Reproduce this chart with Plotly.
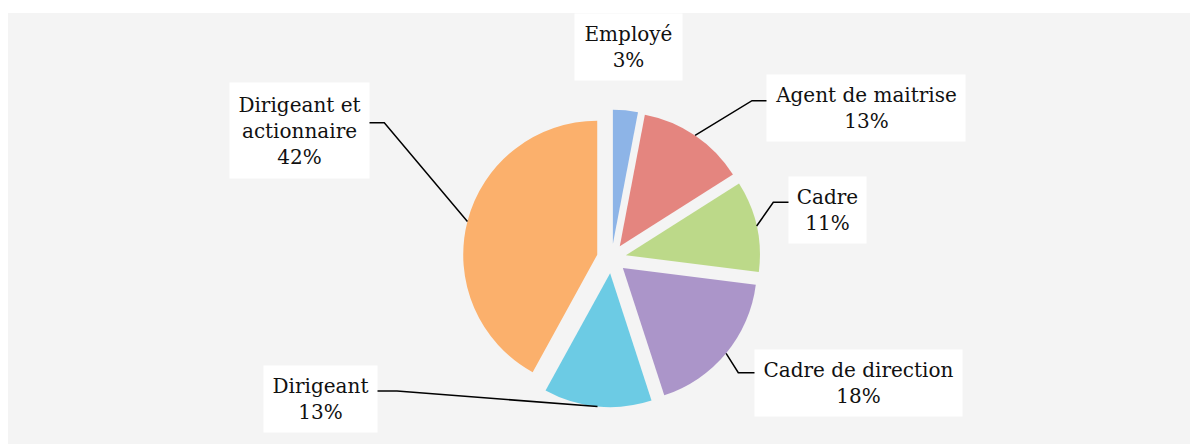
import math
import plotly.graph_objects as go

# ---- data ----
categories = ["Employé", "Agent de maitrise", "Cadre", "Cadre de direction", "Dirigeant", "Dirigeant et actionnaire"]
label_text = ["Employé", "Agent de maitrise", "Cadre", "Cadre de direction", "Dirigeant", "Dirigeant et<br>actionnaire"]
values = [3, 13, 11, 18, 13, 42]
colors = ["#8db4e7", "#e4857f", "#bcd989", "#ab95c9", "#6ccbe4", "#fbb06c"]

# ---- layout geometry (pixels) ----
W, H = 1190, 444
PULL = 0.11
CX, CY, R = 611.5, 258.5, 134.0
box = 2 * R * (1 + PULL)

def px(x):
    return x / W

def py(y):
    return 1 - y / H

dom_x = [px(CX - box / 2), px(CX + box / 2)]
dom_y = [py(CY + box / 2), py(CY - box / 2)]

fig = go.Figure(go.Pie(
    labels=categories, values=values, sort=False, direction="clockwise", rotation=0,
    pull=[PULL] * len(values), marker=dict(colors=colors, line=dict(width=0)),
    textinfo="none", showlegend=False, domain=dict(x=dom_x, y=dom_y),
    hovertemplate="%{label}: %{percent}<extra></extra>",
))

# label boxes: (center x, center y, width, height) in pixels
boxes = [
    (628.5, 47, 107, 66),
    (866, 108, 198, 66),
    (827.5, 210, 77, 66),
    (858.5, 383, 207, 66),
    (320.5, 399, 113, 66),
    (299.5, 130.5, 139, 95),
]
# leader lines: (elbow x, attach y, attach x) or None
leaders = [
    None,
    (752, 100.7, 767),
    (773.3, 202.3, 789),
    (738.3, 372.7, 755),
    (397, 391, 377),
    (384.3, 122.7, 369),
]

total = sum(values)
cum = 0
shapes = [dict(type="rect", xref="paper", yref="paper", x0=px(8), x1=1, y0=0, y1=py(13),
               fillcolor="#f4f4f4", line=dict(width=0), layer="below")]
annotations = []
for i, v in enumerate(values):
    a0 = cum / total * 360
    cum += v
    a1 = cum / total * 360
    mid = math.radians((a0 + a1) / 2)
    ex = CX + (PULL * R + R) * math.sin(mid)
    ey = CY - (PULL * R + R) * math.cos(mid)
    bx, by, bw, bh = boxes[i]
    annotations.append(dict(
        x=px(bx), y=py(by), xref="paper", yref="paper", showarrow=False,
        xanchor="center", yanchor="middle",
        text=f"{label_text[i]}<br>{v}%", width=bw, height=bh, borderpad=0,
        bgcolor="#ffffff", align="center", valign="middle",
        font=dict(family="DejaVu Serif", size=20, color="#111111"),
    ))
    if leaders[i]:
        lx, ly, ax = leaders[i]
        path = f"M {px(ex)},{py(ey)} L {px(lx)},{py(ly)} L {px(ax)},{py(ly)}"
        shapes.append(dict(type="path", xref="paper", yref="paper", path=path,
                           line=dict(color="#000000", width=1.5)))

fig.update_layout(
    width=W, height=H, margin=dict(l=0, r=0, t=0, b=0),
    paper_bgcolor="#ffffff", shapes=shapes, annotations=annotations,
)
fig.write_html("out.html", config={"displayModeBar": False},
               post_script="document.body.style.margin='0';document.body.style.overflow='hidden';")
